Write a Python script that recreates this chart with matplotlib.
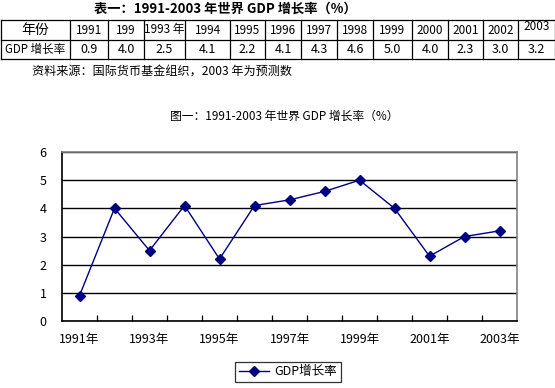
import matplotlib
matplotlib.use("Agg")
import matplotlib.pyplot as plt

plt.rcParams['font.family'] = ['Noto Sans CJK SC', 'DejaVu Sans']

# ---- data ----
years = [1991, 1992, 1993, 1994, 1995, 1996, 1997, 1998, 1999, 2000, 2001, 2002, 2003]
table_year_labels = ['1991', '199', '1993 年', '1994', '1995', '1996', '1997', '1998',
                     '1999', '2000', '2001', '2002', '2003']
gdp = [0.9, 4.0, 2.5, 4.1, 2.2, 4.1, 4.3, 4.6, 5.0, 4.0, 2.3, 3.0, 3.2]
xtick_labels = [f'{y}年' for y in years]
table_title = '表一：1991-2003 年世界 GDP 增长率（%）'
table_row_heads = ['年份', 'GDP 增长率']
source_note = '资料来源：国际货币基金组织，2003 年为预测数'
chart_title = '图一：1991-2003 年世界 GDP 增长率（%）'
series_name = 'GDP增长率'

W, H = 555, 388
fig = plt.figure(figsize=(W / 100, H / 100), dpi=100)

# ---- table in pixel-coordinate overlay ----
tax = fig.add_axes([0, 0, 1, 1])
tax.set_xlim(0, W)
tax.set_ylim(H, 0)
tax.axis('off')

col_edges = [0.5, 70, 108, 144, 185, 230, 265, 301, 337, 373, 412, 448, 483, 518, 554.5]
row_edges = [20, 40, 59]
for xe in col_edges:
    tax.plot([xe, xe], [row_edges[0], row_edges[-1]], color='black', lw=0.9)
for ye in row_edges:
    tax.plot([col_edges[0], col_edges[-1]], [ye, ye], color='black', lw=0.9)

tax.text(225, 9, table_title, ha='center', va='center', fontsize=9.5, fontweight='bold')
tax.text((col_edges[0] + col_edges[1]) / 2, 30, table_row_heads[0], ha='center', va='center', fontsize=10)
tax.text((col_edges[0] + col_edges[1]) / 2, 49.5, table_row_heads[1], ha='center', va='center', fontsize=8.3)
for i, (lab, v) in enumerate(zip(table_year_labels, gdp)):
    cx = (col_edges[i + 1] + col_edges[i + 2]) / 2
    tax.text(cx, 30 if i < 12 else 27, lab, ha='center', va='center', fontsize=8.5)
    tax.text(cx, 49.5, f'{v:.1f}', ha='center', va='center', fontsize=9)
tax.text(32, 72, source_note, ha='left', va='center', fontsize=8.7)

tax.text(284, 116, chart_title, ha='center', va='center', fontsize=8.5)

# ---- line chart ----
left, right, top, bottom = 62, 517, 152, 321
ax = fig.add_axes([left / W, (H - bottom) / H, (right - left) / W, (bottom - top) / H])
x = list(range(len(years)))
ax.plot(x, gdp, color='#000080', lw=1, marker='D', markersize=5,
        markerfacecolor='#000080', markeredgecolor='#000080', label=series_name)
ax.set_xlim(-0.5, len(years) - 0.5)
ax.set_ylim(0, 6)
ax.set_yticks(range(0, 7))
ax.yaxis.grid(True, color='black', lw=1)
ax.set_axisbelow(True)

ax.set_xticks([i + 0.5 for i in range(len(years) - 1)])
ax.set_xticklabels([])
ax.set_xticks(x[::2], minor=True)
ax.set_xticklabels(xtick_labels[::2], minor=True, fontsize=9)
ax.tick_params(axis='x', which='major', direction='in', length=4, width=0.9, color='black')
ax.tick_params(axis='x', which='minor', length=0, pad=8.5)
ax.tick_params(axis='y', direction='in', length=0, labelsize=9, pad=11)

for s in ['top', 'right']:
    ax.spines[s].set_color('#808080')
    ax.spines[s].set_linewidth(1.2)
for s in ['left', 'bottom']:
    ax.spines[s].set_color('black')
    ax.spines[s].set_linewidth(1.2)

leg = fig.legend(loc='center', bbox_to_anchor=(288 / W, (H - 372) / H), frameon=True,
                 fancybox=False, edgecolor='black', fontsize=9, handlelength=2.4,
                 borderpad=0.3, handletextpad=0.4, borderaxespad=0)
leg.get_frame().set_linewidth(0.9)

fig.savefig('out.png', dpi=100)
